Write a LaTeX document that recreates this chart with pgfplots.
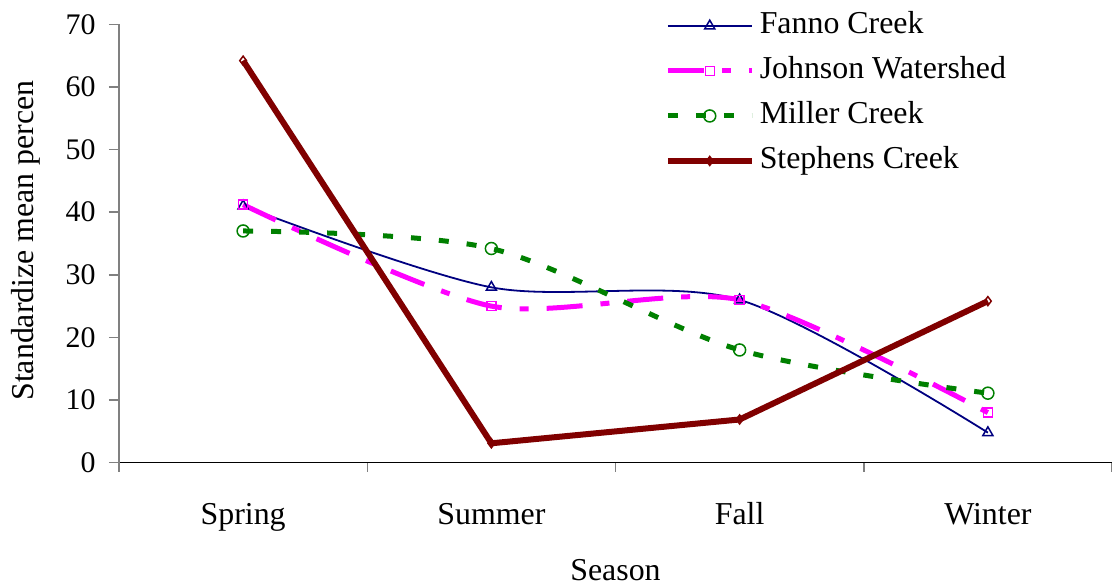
\documentclass[border=0pt]{standalone}
\usepackage{fontspec}
\setmainfont{Liberation Serif}
\usepackage{pgfplots}
\pgfplotsset{compat=1.18}
\definecolor{fanno}{RGB}{0,0,128}
\definecolor{johnson}{RGB}{255,0,255}
\definecolor{miller}{RGB}{0,128,0}
\definecolor{stephens}{RGB}{128,0,0}
\begin{document}
\begin{tikzpicture}
\begin{axis}[
  at={(0,0)}, anchor=south west,
  scale only axis, width=993bp, height=438.4bp,
  xmin=-0.5, xmax=3.5, ymin=0, ymax=70,
  axis lines=left, axis line style={-},
  x axis line style={black, line width=1.2bp},
  y axis line style={gray, line width=1.5bp},
  xtick={0,1,2,3}, xticklabels={Spring,Summer,Fall,Winter},
  minor xtick={-0.5,0.5,1.5,2.5,3.5},
  ytick={0,10,...,70},
  tick align=outside,
  major x tick style={draw=none},
  minor x tick style={gray, line width=1.5bp},
  major y tick style={gray, line width=1.5bp},
  major tick length=10bp, minor tick length=9bp,
  /pgf/number format/assume math mode=true,
  tick label style={font=\fontsize{32}{36}\selectfont},
  yticklabel style={font=\fontsize{30}{36}\selectfont, xshift=-10bp},
  xticklabel style={anchor=base, yshift=-52bp},
  xlabel={Season},
  xlabel style={at={(axis description cs:0.5,-0.2698)}, anchor=base, font=\fontsize{32}{36}\selectfont},
  ylabel={Standardize mean percen},
  ylabel style={at={(axis description cs:-0.0866,0.507)}, anchor=base, rotate=0, font=\fontsize{32}{36}\selectfont},
  legend cell align=left,
  legend style={at={(axis description cs:0.5494,1.048)}, anchor=north west, draw=none, fill=none,
    inner sep=0pt, row sep=0pt, font=\fontsize{32}{36}\selectfont,
    nodes={text height=22bp, text depth=7bp, inner xsep=5bp, inner ysep=8bp}},
  legend image code/.code={\draw[mark repeat=2, mark phase=2, #1] plot coordinates {(0bp,0bp) (42bp,0bp) (84bp,0bp)};},
]
\addplot[fanno, line width=1.8bp, smooth, mark=triangle, mark size=5.8bp,
  mark options={solid, fill=white, line width=1.5bp}]
  coordinates {(0,41) (1,28) (2,26) (3,4.8)};
\addlegendentry{Fanno Creek}
\addplot[johnson, line width=5bp, smooth, tension=0.45, dash pattern=on 36bp off 18bp on 9bp off 18bp,
  mark=square, mark size=4.5bp, mark options={solid, fill=white, line width=1.5bp}]
  coordinates {(0,41.2) (1,25) (2,26) (3,8)};
\addlegendentry{Johnson Watershed}
\addplot[miller, line width=5bp, smooth, dash pattern=on 10bp off 18bp,
  mark=o, mark size=6bp, mark options={solid, fill=white, line width=1.5bp}]
  coordinates {(0,37) (1,34.2) (2,18) (3,11.1)};
\addlegendentry{Miller Creek}
\addplot[stephens, line width=6bp, mark=diamond, mark size=4.5bp,
  mark options={solid, fill=white, line width=1.5bp}]
  coordinates {(0,64.2) (1,3.1) (2,6.9) (3,25.8)};
\addlegendentry{Stephens Creek}
\end{axis}
\pgfresetboundingbox
\path (-119bp,-124.3bp) rectangle (993bp,462.7bp);
\end{tikzpicture}
\end{document}
